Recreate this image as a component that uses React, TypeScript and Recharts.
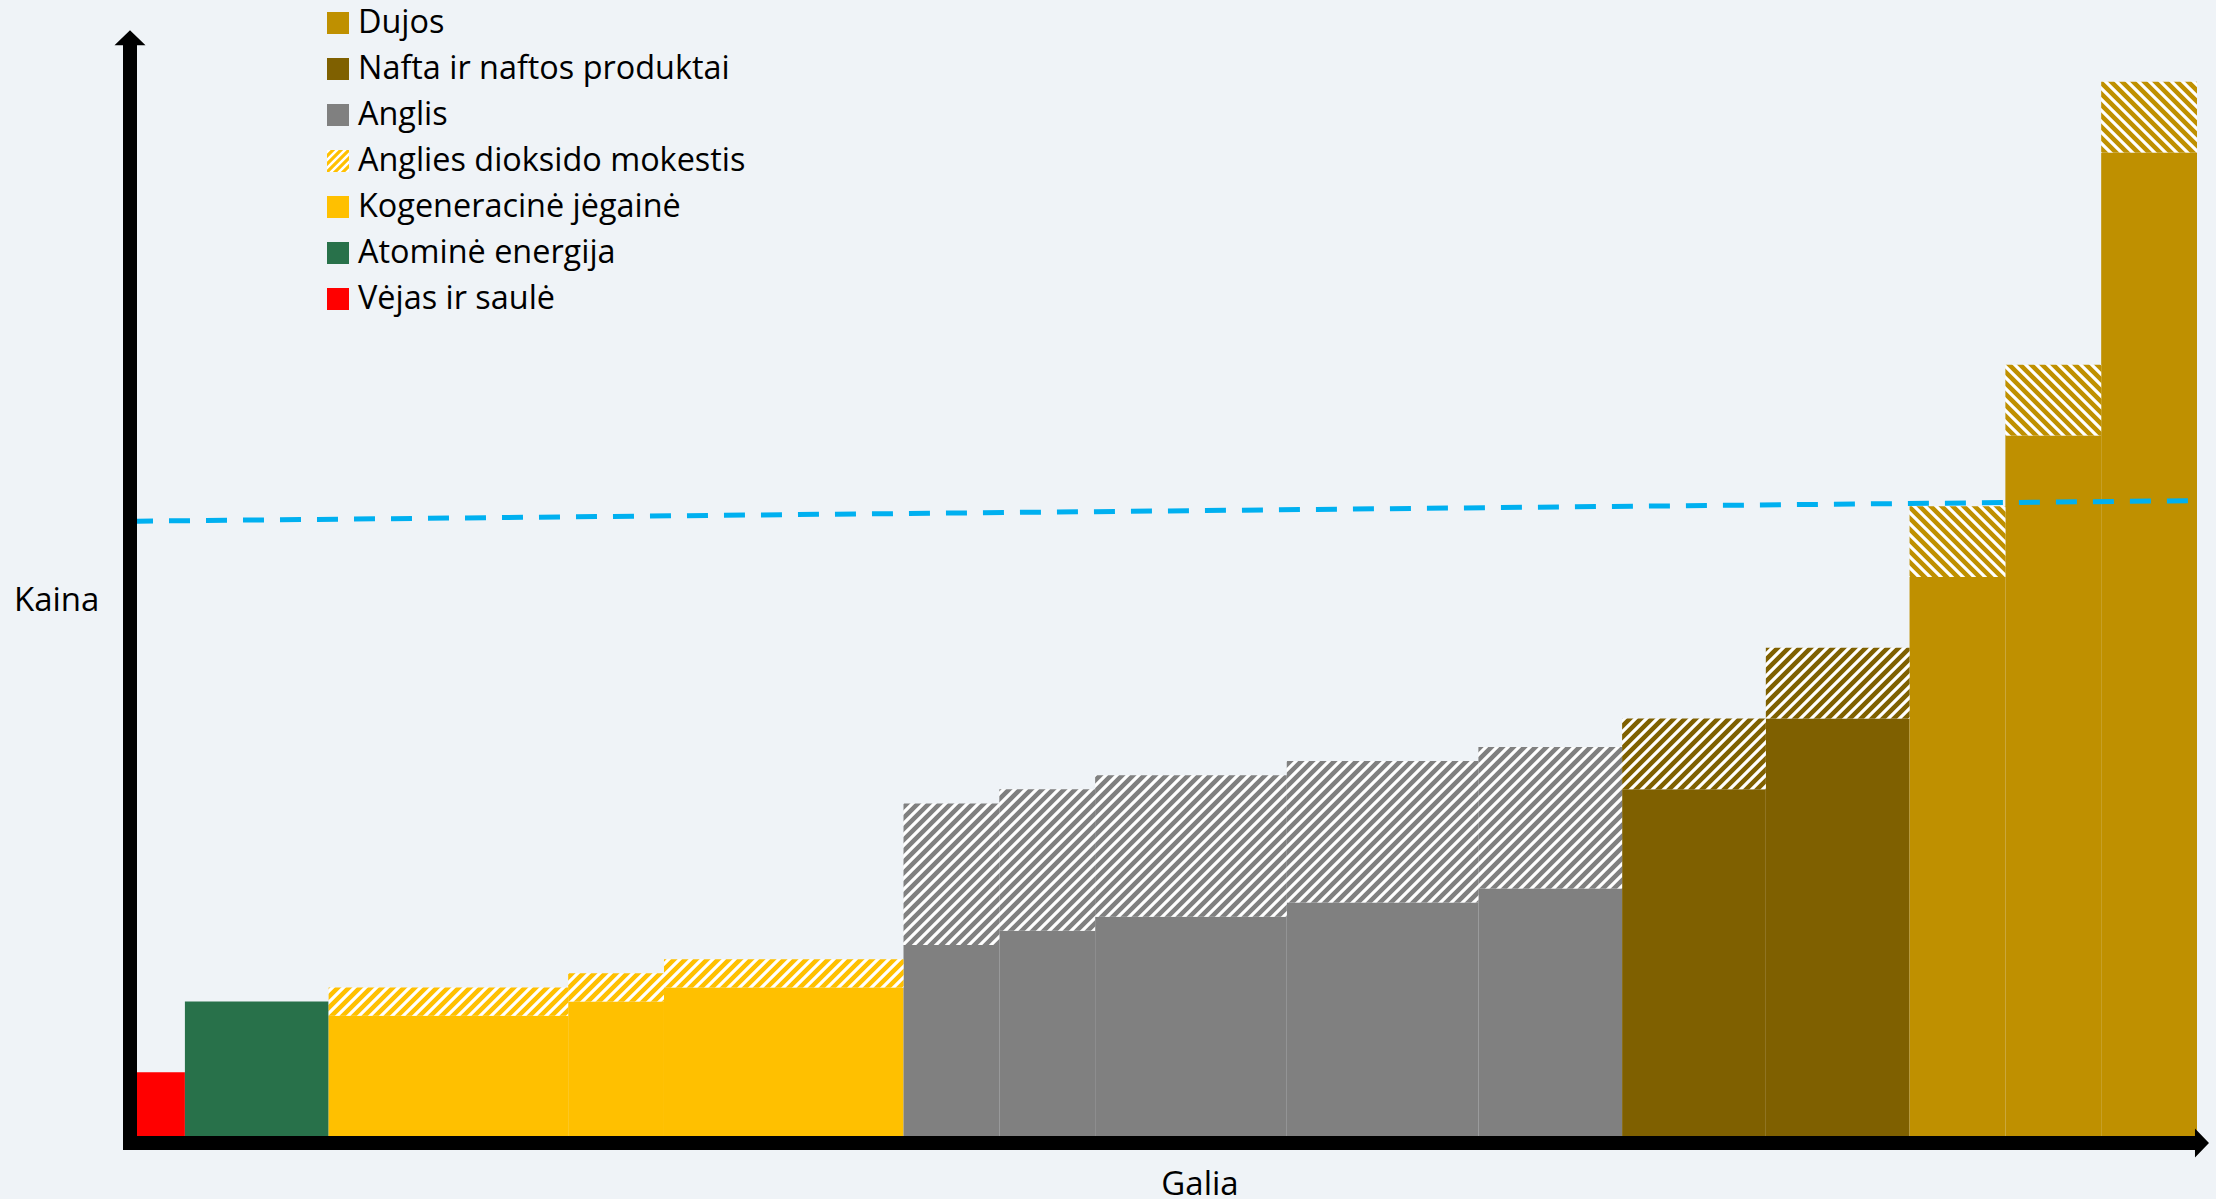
import {
    ComposedChart,
    Line,
    XAxis,
    YAxis,
    ReferenceArea,
    ReferenceLine,
    Legend,
} from "recharts";

// merit order blocks, left to right
const plantKinds = [
    "vejas", "atom", "koge", "koge", "koge",
    "anglis", "anglis", "anglis", "anglis", "anglis",
    "nafta", "nafta", "dujos", "dujos", "dujos",
];
const capacities = [1, 3, 5, 2, 5, 2, 2, 4, 4, 3, 3, 3, 2, 2, 2];
const basePrices = [9, 19, 17, 19, 21, 27, 29, 31, 33, 35, 49, 59, 79, 99, 139];
const co2Tax = [0, 0, 4, 4, 4, 20, 20, 20, 20, 20, 10, 10, 10, 10, 10];

// demand (dashed blue line)
const demandQ = [0, 42.9];
const demandP = [86.9, 89.8];

const legendLabels = [
    "Dujos",
    "Nafta ir naftos produktai",
    "Anglis",
    "Anglies dioksido mokestis",
    "Kogeneracinė jėgainė",
    "Atominė energija",
    "Vėjas ir saulė",
];
const legendKinds = ["dujos", "nafta", "anglis", "tax", "koge", "atom", "vejas"];

const colors: Record<string, string> = {
    vejas: "#FF0000",
    atom: "#28714A",
    koge: "#FFC000",
    anglis: "#808080",
    nafta: "#7F6000",
    dujos: "#BF9000",
};

const FONT = "'Open Sans', sans-serif";
const BG = "#EFF3F7";
const AXIS_W = 14;

const blocks = (() => {
    let start = 0;
    return plantKinds.map((kind, i) => {
        const b = { kind, x1: start, x2: start + capacities[i], base: basePrices[i], tax: co2Tax[i] };
        start += capacities[i];
        return b;
    });
})();

const demand = demandQ.map((q, i) => ({ q, p: demandP[i] }));

function Hatch({ id, color, back, size = 11, sw = 3.2 }: { id: string; color: string; back?: boolean; size?: number; sw?: number }) {
    const s = size;
    const d = back
        ? `M-2,${s - 2} L2,${s + 2} M0,0 L${s},${s} M${s - 2},-2 L${s + 2},2`
        : `M-2,2 L2,-2 M0,${s} L${s},0 M${s - 2},${s + 2} L${s + 2},${s - 2}`;
    return (
        <pattern id={id} width={s} height={s} patternUnits="userSpaceOnUse">
            <rect width={s} height={s} fill={color} />
            <path d={d} stroke="#FFFFFF" strokeWidth={sw} />
        </pattern>
    );
}

function VerticalArrow(props: any) {
    const { x1, y1, y2 } = props;
    const c = x1 - AXIS_W / 2;
    const pts = [
        [x1 - AXIS_W, y1 + AXIS_W],
        [x1, y1 + AXIS_W],
        [x1, y2 + 15],
        [c + 15.5, y2 + 15],
        [c, y2],
        [c - 15.5, y2 + 15],
        [x1 - AXIS_W, y2 + 15],
    ];
    return <polygon points={pts.map((p) => p.join(",")).join(" ")} fill="#000" />;
}

function HorizontalArrow(props: any) {
    const { x1, y1, x2 } = props;
    const c = y1 + AXIS_W / 2;
    const pts = [
        [x1 - AXIS_W, y1],
        [x2 - 14, y1],
        [x2 - 14, c - 14.5],
        [x2, c],
        [x2 - 14, c + 14.5],
        [x2 - 14, y1 + AXIS_W],
        [x1 - AXIS_W, y1 + AXIS_W],
    ];
    return <polygon points={pts.map((p) => p.join(",")).join(" ")} fill="#000" />;
}

function LegendBox() {
    return (
        <svg width={460} height={320} style={{ display: "block" }}>
            <defs>
                <Hatch id="legend-tax" color={colors.koge} size={8} sw={2.5} />
            </defs>
            {legendLabels.map((label, i) => {
                const kind = legendKinds[i];
                const y = 12 + i * 46;
                return (
                    <g key={label}>
                        <rect
                            x={0}
                            y={y}
                            width={22}
                            height={22}
                            fill={kind === "tax" ? "url(#legend-tax)" : colors[kind]}
                        />
                        <text x={31} y={y + 21} fontFamily={FONT} fontSize={32.4} fill="#000">
                            {label}
                        </text>
                    </g>
                );
            })}
        </svg>
    );
}

export default function App() {
    return (
        <div style={{ width: 2216, height: 1199, background: BG, position: "relative" }}>
            <style>{`html, body { margin: 0; padding: 0; background: ${BG}; overflow: hidden; }`}</style>
            <ComposedChart
                width={2216}
                height={1199}
                data={demand}
                margin={{ top: 4, right: 19, bottom: 63, left: 137 }}
            >
                <defs>
                    <Hatch id="hatch-koge" color={colors.koge} />
                    <Hatch id="hatch-anglis" color={colors.anglis} />
                    <Hatch id="hatch-nafta" color={colors.nafta} />
                    <Hatch id="hatch-dujos" color={colors.dujos} back />
                </defs>
                <XAxis type="number" dataKey="q" domain={[0, 43]} allowDataOverflow hide />
                <YAxis type="number" domain={[0, 160]} allowDataOverflow hide />
                {blocks.map((b, i) => (
                    <ReferenceArea
                        key={`base-${i}`}
                        x1={b.x1}
                        x2={b.x2}
                        y1={0}
                        y2={b.base}
                        fill={colors[b.kind]}
                        fillOpacity={1}
                        stroke="none"
                    />
                ))}
                {blocks
                    .filter((b) => b.tax > 0)
                    .map((b, i) => (
                        <ReferenceArea
                            key={`tax-${i}`}
                            x1={b.x1}
                            x2={b.x2}
                            y1={b.base}
                            y2={b.base + b.tax}
                            fill={`url(#hatch-${b.kind})`}
                            fillOpacity={1}
                            stroke="none"
                        />
                    ))}
                <Line
                    dataKey="p"
                    stroke="#00B0F0"
                    strokeWidth={5}
                    strokeDasharray="21 16"
                    strokeDashoffset={5}
                    dot={false}
                    activeDot={false}
                    isAnimationActive={false}
                    legendType="none"
                />
                <ReferenceLine
                    segment={[{ x: 0, y: 0 }, { x: 0, y: 156.3 }]}
                    ifOverflow="visible"
                    shape={VerticalArrow}
                />
                <ReferenceLine
                    segment={[{ x: 0, y: 0 }, { x: 43.25, y: 0 }]}
                    ifOverflow="visible"
                    shape={HorizontalArrow}
                />
                <text x={14} y={611} fontFamily={FONT} fontSize={33} fill="#000">
                    Kaina
                </text>
                <text x={1200} y={1195} textAnchor="middle" fontFamily={FONT} fontSize={33} fill="#000">
                    Galia
                </text>
                <Legend
                    layout="vertical"
                    align="center"
                    verticalAlign="middle"
                    wrapperStyle={{ top: 0, left: 327, width: 460, height: 320 }}
                    content={() => <LegendBox />}
                />
            </ComposedChart>
        </div>
    );
}
